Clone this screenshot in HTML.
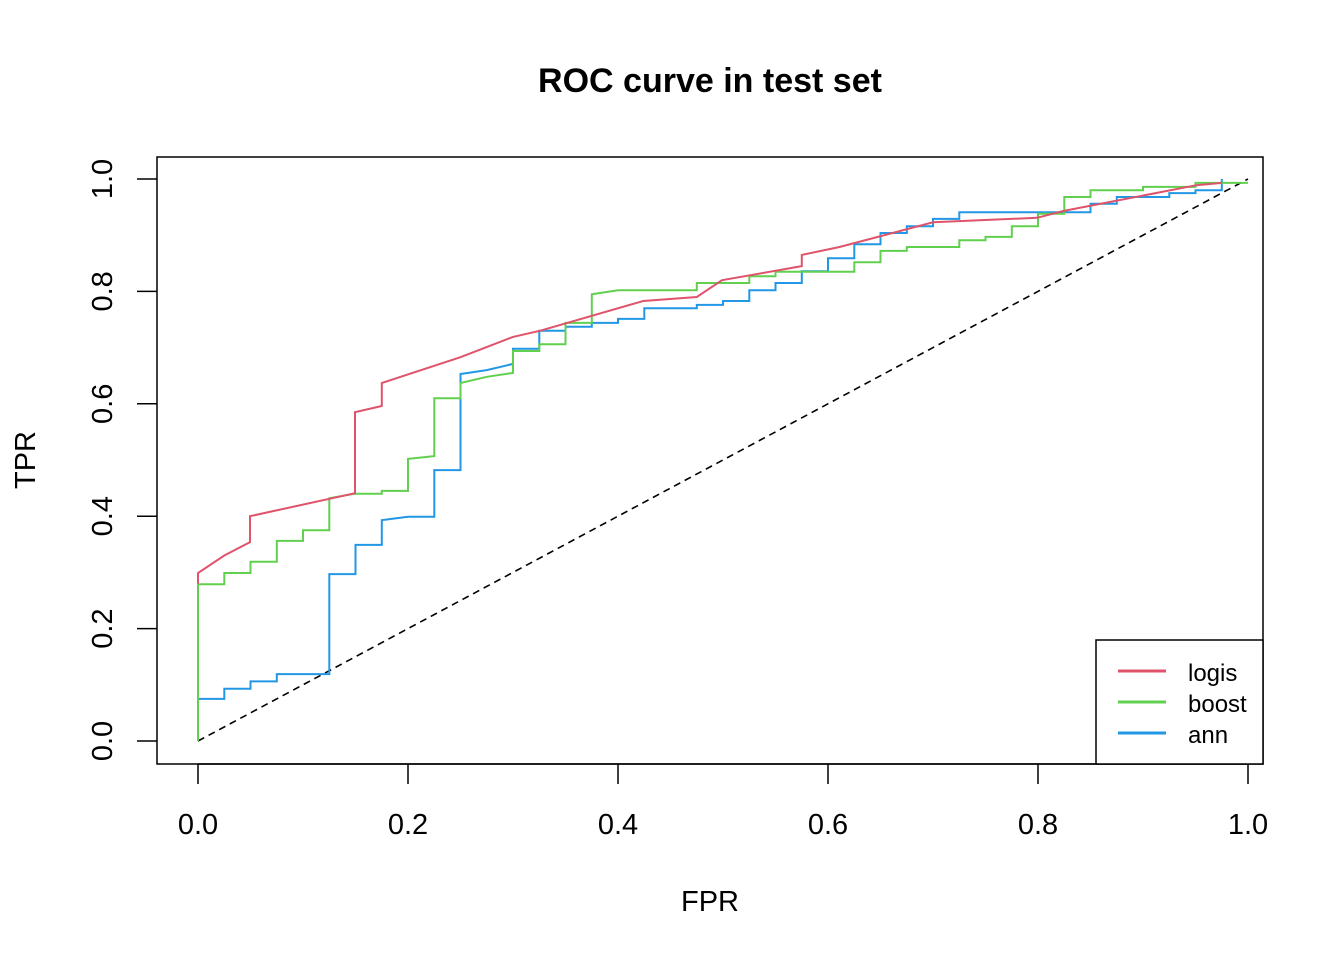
<!DOCTYPE html>
<html><head><meta charset="utf-8"><style>
html,body{margin:0;padding:0;background:#fff;}
svg text{font-family:"Liberation Sans",Arial,sans-serif;}
</style></head><body>
<svg id="chart" width="1344" height="960" xmlns="http://www.w3.org/2000/svg">
<rect width="1344" height="960" fill="#fff"/>
<text x="710" y="92" text-anchor="middle" font-size="34" font-weight="bold">ROC curve in test set</text>
<rect x="157" y="157" width="1106" height="607" fill="none" stroke="#000" stroke-width="1.5"/>
<g id="xaxis"></g>
<g id="yaxis"></g>
<text x="710" y="911" text-anchor="middle" font-size="29">FPR</text>
<text transform="translate(35,460) rotate(-90)" text-anchor="middle" font-size="29">TPR</text>
<g id="series"></g>
<g>
<rect x="1096" y="640" width="167" height="124" fill="#fff" stroke="#000" stroke-width="1.5"/>
<line x1="1118" y1="671" x2="1166" y2="671" stroke="#DF536B" stroke-width="3"/>
<text x="1188" y="681" font-size="24">logis</text>
<line x1="1118" y1="702" x2="1166" y2="702" stroke="#61D04F" stroke-width="3"/>
<text x="1188" y="712" font-size="24">boost</text>
<line x1="1118" y1="733" x2="1166" y2="733" stroke="#2297E6" stroke-width="3"/>
<text x="1188" y="743" font-size="24">ann</text>
</g>
</svg>
<script>
const xTicks=[0,0.2,0.4,0.6,0.8,1.0];
const yTicks=[0,0.2,0.4,0.6,0.8,1.0];
const tickLabels=["0.0","0.2","0.4","0.6","0.8","1.0"];
const logisFpr=[0,0,0.025,0.0495,0.0495,0.1495,0.1495,0.175,0.175,0.25,0.3,0.326,0.424,0.475,0.499,0.575,0.575,0.611,0.70,0.799,0.824,0.951,0.975];
const logisTpr=[0.28,0.299,0.330,0.354,0.400,0.441,0.585,0.596,0.637,0.683,0.719,0.730,0.783,0.790,0.820,0.845,0.865,0.879,0.923,0.931,0.943,0.989,0.993];
const boostFpr=[0,0,.025,.025,.05,.05,.075,.075,.1,.1,.125,.125,.15,.175,.175,.2,.2,.225,.225,.25,.25,.275,.3,.3,.325,.325,.35,.35,.375,.375,.4,.475,.475,.525,.525,.55,.55,.625,.625,.65,.65,.675,.675,.725,.725,.75,.75,.775,.775,.8,.8,.825,.825,.85,.85,.9,.9,.95,.95,1];
const boostTpr=[0,.279,.279,.299,.299,.319,.319,.356,.356,.375,.375,.432,.440,.440,.445,.445,.502,.507,.610,.610,.637,.648,.655,.694,.694,.706,.706,.744,.744,.795,.802,.802,.815,.815,.827,.827,.835,.835,.852,.852,.872,.872,.879,.879,.891,.891,.897,.897,.916,.916,.938,.938,.968,.968,.980,.980,.986,.986,.993,.993];
const annFpr=[0,0,.025,.025,.05,.05,.075,.075,.125,.125,.15,.15,.175,.175,.2,.225,.225,.25,.25,.275,.3,.3,.325,.325,.35,.35,.375,.375,.4,.4,.425,.425,.475,.475,.5,.5,.525,.525,.55,.55,.575,.575,.6,.6,.625,.625,.65,.65,.675,.675,.7,.7,.725,.725,.85,.85,.875,.875,.925,.925,.95,.95,.975,.975];
const annTpr=[0,.075,.075,.093,.093,.106,.106,.119,.119,.297,.297,.349,.349,.393,.399,.399,.482,.482,.653,.660,.671,.698,.698,.730,.730,.737,.737,.744,.744,.751,.751,.770,.770,.776,.776,.783,.783,.802,.802,.815,.815,.836,.836,.859,.859,.884,.884,.904,.904,.916,.916,.929,.929,.941,.941,.956,.956,.968,.968,.975,.975,.980,.980,1.0];
const diagFpr=[0,1];
const diagTpr=[0,1];

const NS="http://www.w3.org/2000/svg";
function sx(v){return 198+v*1050;}
function sy(v){return 741-v*562;}
const xa=document.getElementById('xaxis');
const ya=document.getElementById('yaxis');
function mk(tag,attrs,parent){const e=document.createElementNS(NS,tag);for(const k in attrs)e.setAttribute(k,attrs[k]);parent.appendChild(e);return e;}
mk('line',{x1:sx(xTicks[0]),x2:sx(xTicks[xTicks.length-1]),y1:764,y2:764,stroke:'#000','stroke-width':1.5},xa);
xTicks.forEach((t,i)=>{
  const l=mk('line',{x1:sx(t),x2:sx(t),y1:764,y2:784,stroke:'#000','stroke-width':1.5},xa);
  
  
  const tx=mk('text',{x:sx(t),y:834,'text-anchor':'middle','font-size':29},xa);
  tx.textContent=tickLabels[i];
  
  
});
yTicks.forEach((t,i)=>{
  const l=mk('line',{x1:137,x2:157,y1:sy(t),y2:sy(t),stroke:'#000','stroke-width':1.5},ya);
  
  
  const tx=mk('text',{transform:`translate(112,${sy(t)}) rotate(-90)`,'text-anchor':'middle','font-size':29},ya);
  tx.textContent=tickLabels[i];
  
  
});
const sg=document.getElementById('series');
function line(xs,ys,color,name,dash){
  const pts=xs.map((x,i)=>sx(x).toFixed(1)+','+sy(ys[i]).toFixed(1)).join(' ');
  const p=mk('polyline',{points:pts,fill:'none',stroke:color,'stroke-width':dash?1.6:2},sg);
  if(dash)p.setAttribute('stroke-dasharray','7,5');
  
  
}
line(diagFpr,diagTpr,'#000','diagonal-reference',true);
line(annFpr,annTpr,'#2297E6','ann-curve');
line(boostFpr,boostTpr,'#61D04F','boost-curve');
line(logisFpr,logisTpr,'#DF536B','logis-curve');
</script>
</body></html>
